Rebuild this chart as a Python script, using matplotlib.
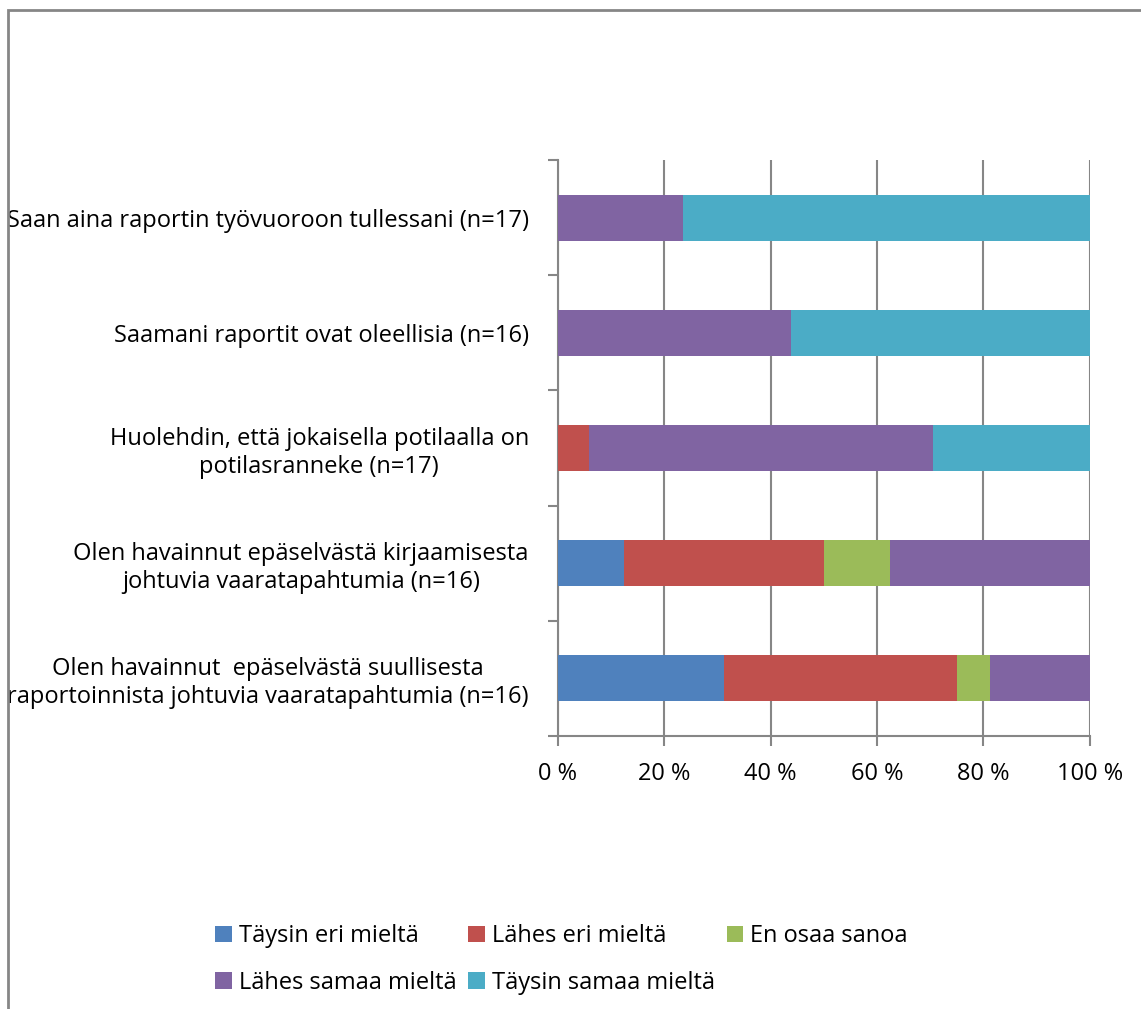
import numpy as np
import matplotlib.pyplot as plt
from matplotlib.patches import Rectangle

plt.rcParams['font.family'] = ['Open Sans', 'DejaVu Sans']

categories = [
    'Olen havainnut  epäselvästä suullisesta\nraportoinnista johtuvia vaaratapahtumia (n=16)',
    'Olen havainnut epäselvästä kirjaamisesta\njohtuvia vaaratapahtumia (n=16)',
    'Huolehdin, että jokaisella potilaalla on\npotilasranneke (n=17)',
    'Saamani raportit ovat oleellisia (n=16)',
    'Saan aina raportin työvuoroon tullessani (n=17)',
]
series = ['Täysin eri mieltä', 'Lähes eri mieltä', 'En osaa sanoa',
          'Lähes samaa mieltä', 'Täysin samaa mieltä']
colors = ['#4f81bd', '#c0504d', '#9bbb59', '#8064a2', '#4bacc6']

# percentages per category (bottom to top)
taysin_eri = [31.25, 12.5, 0, 0, 0]
lahes_eri = [43.75, 37.5, 5.88, 0, 0]
en_osaa = [6.25, 12.5, 0, 0, 0]
lahes_samaa = [18.75, 37.5, 64.71, 43.75, 23.53]
taysin_samaa = [0, 0, 29.41, 56.25, 76.47]
values = [taysin_eri, lahes_eri, en_osaa, lahes_samaa, taysin_samaa]

fig = plt.figure(figsize=(11.41, 10.09), dpi=100)
ax = fig.add_axes([0.489, 0.2706, 0.466, 0.5708])

y = np.arange(len(categories))
left = np.zeros(len(categories))
handles = []
for name, vals, c in zip(series, values, colors):
    h = ax.barh(y, vals, left=left, height=0.4, color=c, label=name, zorder=3)
    handles.append(h)
    left += np.array(vals)

ax.set_xlim(0, 100)
ax.set_ylim(-0.5, len(categories) - 0.5)
ax.set_xticks(np.arange(0, 101, 20))
ax.set_xticklabels([f'{v} %' for v in range(0, 101, 20)], fontsize=17)
ax.set_yticks(y)
ax.set_yticklabels(categories, fontsize=17, multialignment='center')
ax.set_yticks(np.arange(-0.5, len(categories), 1), minor=True)
ax.tick_params(axis='y', which='major', length=0, pad=21)
ax.tick_params(axis='y', which='minor', length=7, color='#868686', width=1.5)
ax.tick_params(axis='x', length=7, color='#868686', width=1.5, pad=12)
ax.grid(axis='x', color='#868686', linewidth=1.5, zorder=0)
for s in ['top', 'right']:
    ax.spines[s].set_visible(False)
for s in ['left', 'bottom']:
    ax.spines[s].set_color('#868686')
    ax.spines[s].set_linewidth(1.5)

# legend filled row by row: 3 on the first row, 2 on the second
order = [0, 3, 1, 4, 2]
fig.legend([handles[i] for i in order], [series[i] for i in order],
           loc='lower left', bbox_to_anchor=(0.17, -0.007), ncol=3, frameon=False,
           fontsize=17, handlelength=0.7, handleheight=0.7, handletextpad=0.3,
           columnspacing=0.5, labelspacing=0.95)

fig.patches.append(Rectangle((8 / 1141, -0.1), 1.2, 1 - 10 / 1009 + 0.1,
                             transform=fig.transFigure, fill=False,
                             edgecolor='#868686', linewidth=2))

fig.savefig('out.png', dpi=100)
